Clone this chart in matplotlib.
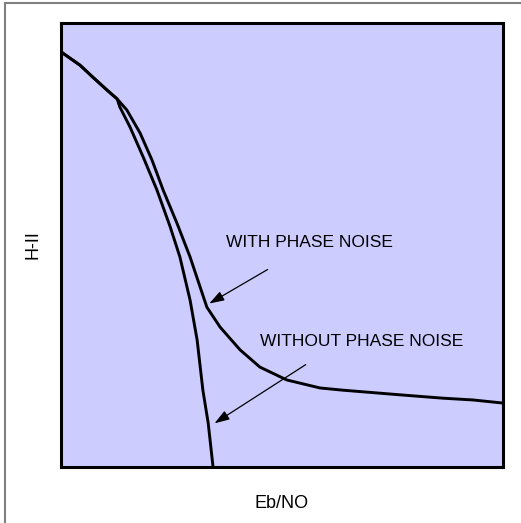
import numpy as np
import matplotlib.pyplot as plt
from matplotlib.patches import Rectangle

# curve readings (x: Eb/N0 in arbitrary units 0-10, y: BER arbitrary 0-10)
with_x = [0.0, 0.43, 0.72, 1.04, 1.27, 1.49, 1.79, 2.06, 2.31, 2.62, 2.92, 3.30, 3.60,
          4.05, 4.50, 5.11, 5.86, 6.38, 7.74, 8.64, 9.32, 10.0]
with_y = [9.35, 9.05, 8.78, 8.49, 8.29, 8.04, 7.52, 6.91, 6.24, 5.50, 4.73, 3.60, 3.15,
          2.64, 2.25, 1.96, 1.78, 1.73, 1.62, 1.55, 1.51, 1.44]

without_x = [0.0, 0.43, 0.72, 1.04, 1.27, 1.33, 1.56, 1.86, 2.17, 2.47, 2.69, 2.92, 3.08,
             3.21, 3.33, 3.44]
without_y = [9.35, 9.05, 8.78, 8.49, 8.29, 8.11, 7.66, 6.98, 6.24, 5.41, 4.73, 3.76, 2.86,
             1.73, 0.99, 0.0]

labels = ['WITH PHASE NOISE', 'WITHOUT PHASE NOISE']
label_xy = [(3.73, 5.05), (4.5, 2.82)]
arrow_tail = [(4.73, 4.48), (5.59, 2.34)]
arrow_head = [(3.30, 3.65), (3.42, 0.95)]

plt.rcParams['font.family'] = ['Liberation Sans', 'DejaVu Sans']

fig = plt.figure(figsize=(5.21, 5.23), dpi=100)
ax = fig.add_axes([61/521, 56/523, 442/521, 444/523])
ax.set_facecolor('#ccccff')

ax.plot(with_x, with_y, color='black', lw=2.1, solid_joinstyle='round')
ax.plot(without_x, without_y, color='black', lw=2.1, solid_joinstyle='round')

for lab, (tx, ty), tail, head in zip(labels, label_xy, arrow_tail, arrow_head):
    ax.text(tx, ty, lab, fontsize=12.5, va='center', ha='left')
    ax.annotate('', xy=head, xytext=tail,
                arrowprops=dict(arrowstyle='-|>,head_length=0.9,head_width=0.3',
                                color='black', lw=0.9))

ax.set_xlim(0, 10)
ax.set_ylim(0, 10)
ax.set_xticks([])
ax.set_yticks([])
for s in ax.spines.values():
    s.set_linewidth(2.2)

ax.set_xlabel('Eb/NO', fontsize=13, labelpad=20)
ax.set_ylabel('H-II', fontsize=13, labelpad=14)

# outer frame (only top and left edges visible)
fig.patches.append(Rectangle((5/521, -0.1), 1.2, (520/523) + 0.1, transform=fig.transFigure,
                             fill=False, edgecolor='#808080', lw=1.5))

fig.savefig('out.png', dpi=100)
